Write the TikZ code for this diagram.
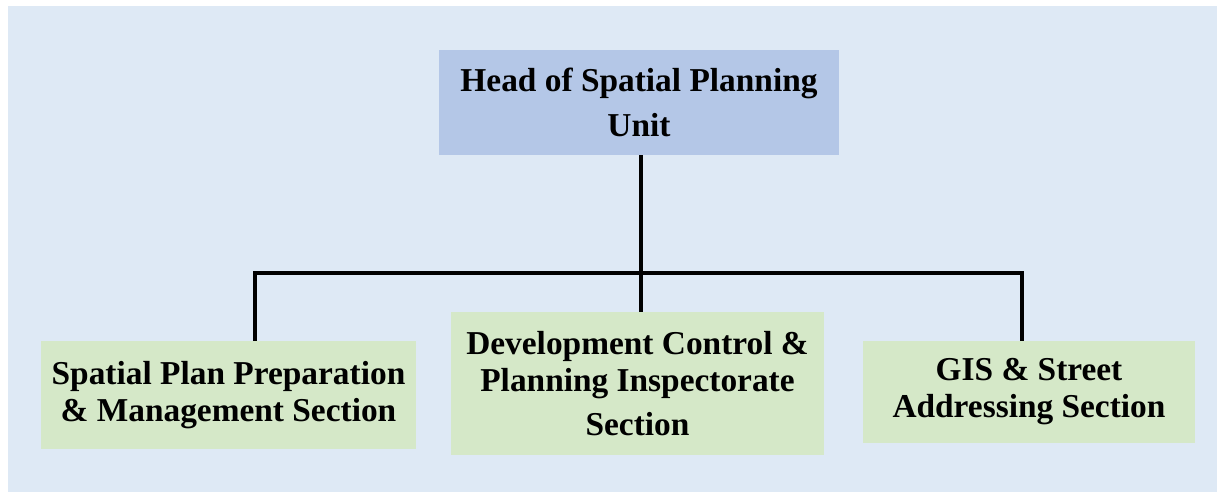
\documentclass[tikz,border=0pt]{standalone}
\usepackage{fontspec}
\setmainfont{Liberation Serif}
\usepackage{tikz}
\usetikzlibrary{positioning, calc}

\definecolor{pagebg}{HTML}{DEE9F5}
\definecolor{headblue}{HTML}{B4C7E7}
\definecolor{secgreen}{HTML}{D5E8C8}

\tikzset{
    unitbox/.style={fill=#1, inner sep=0pt, align=center, font=\bfseries\fontsize{19}{21}\selectfont},
    link/.style={line width=2.8pt}
}

\begin{document}
\begin{tikzpicture}[x=0.02cm, y=-0.02cm]
    \useasboundingbox (0,0) rectangle (1217,492);
    \fill[pagebg] (8,6) rectangle (1217,492);

    \node (head) at (639,102.5)[unitbox=headblue, minimum width=400*0.02cm, minimum height=105*0.02cm]{Head of Spatial Planning\\[5pt]Unit};
    \node (plan) at (228.5,395)[unitbox=secgreen, minimum width=375*0.02cm, minimum height=108*0.02cm]{Spatial Plan Preparation\\\& Management Section};
    \node (dev) at (637.5,383.5)[unitbox=secgreen, minimum width=373*0.02cm, minimum height=143*0.02cm]{Development Control \&\\Planning Inspectorate\\[4pt]Section};
    \node (gis) at (1029,392)[unitbox=secgreen, minimum width=332*0.02cm, minimum height=102*0.02cm]{GIS \& Street\\Addressing Section};

    \coordinate (busL) at (255,273);
    \coordinate (busM) at (641,273);
    \coordinate (busR) at (1022,273);

    \draw[link] (head.south -| busM) -- (busM);
    \draw[link] (busL |- plan.north) -- (busL) -- (busR) -- (busR |- gis.north);
    \draw[link] (busM) -- (busM |- dev.north);
\end{tikzpicture}
\end{document}
